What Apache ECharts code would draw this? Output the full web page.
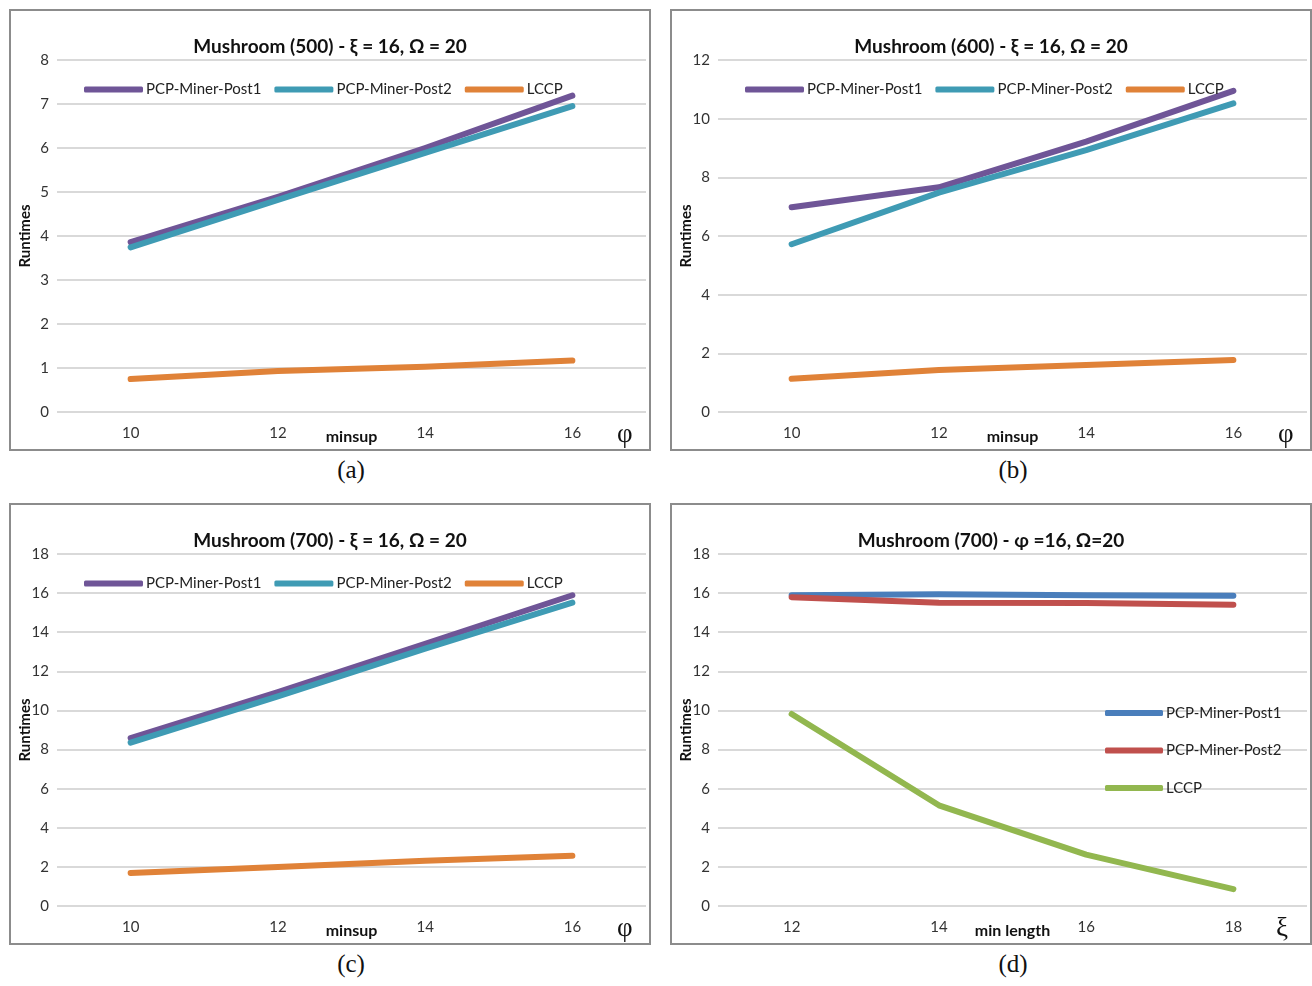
<!DOCTYPE html>
<html>
<head>
<meta charset="utf-8">
<script src="https://cdn.jsdelivr.net/npm/echarts@6/dist/echarts.min.js"></script>
<style>
  html, body { margin: 0; padding: 0; background: #fff; }
  body { width: 1312px; height: 986px; position: relative; overflow: hidden; }
  .box { position: absolute; width: 638px; height: 438px; border: 2px solid #8c8c8c; }
  .chart { width: 638px; height: 438px; }
  .cap { position: absolute; width: 120px; text-align: center; font-family: "Liberation Serif", "DejaVu Serif", serif; font-size: 25px; color: #111; }
</style>
</head>
<body>
<div class="box" style="left:9px;top:9px"><div id="ca" class="chart"></div></div>
<div class="box" style="left:670px;top:9px"><div id="cb" class="chart"></div></div>
<div class="box" style="left:9px;top:503px"><div id="cc" class="chart"></div></div>
<div class="box" style="left:670px;top:503px"><div id="cd" class="chart"></div></div>
<div class="cap" style="left:291px;top:456px">(a)</div>
<div class="cap" style="left:953px;top:456px">(b)</div>
<div class="cap" style="left:291px;top:950px">(c)</div>
<div class="cap" style="left:953px;top:950px">(d)</div>
<script>
// x categories
const minsupCats = ["10", "12", "14", "16"];
const lengthCats = ["12", "14", "16", "18"];

// (a) Mushroom (500)
const aPost1 = [3.86, 4.89, 6.0, 7.19];
const aPost2 = [3.74, 4.82, 5.89, 6.95];
const aLccp = [0.75, 0.93, 1.03, 1.17];

// (b) Mushroom (600)
const bPost1 = [6.98, 7.66, 9.22, 10.95];
const bPost2 = [5.72, 7.48, 8.93, 10.52];
const bLccp = [1.13, 1.43, 1.6, 1.77];

// (c) Mushroom (700), varying minsup
const cPost1 = [8.59, 10.94, 13.41, 15.89];
const cPost2 = [8.35, 10.72, 13.16, 15.51];
const cLccp = [1.69, 1.99, 2.32, 2.57];

// (d) Mushroom (700), varying min length
const dPost1 = [15.89, 15.94, 15.89, 15.87];
const dPost2 = [15.79, 15.51, 15.5, 15.41];
const dLccp = [9.82, 5.15, 2.63, 0.86];

const seriesNames = ["PCP-Miner-Post1", "PCP-Miner-Post2", "LCCP"];
const FONT = "Lato, 'Open Sans', sans-serif";

function buildOption(cfg) {
  const legendText = { fontFamily: FONT, fontSize: 15, color: "#222", padding: [0, 0, 0, -2] };
  const legend = cfg.vertical
    ? {
        orient: "vertical", left: 428, top: 194,
        icon: "roundRect", itemWidth: 58, itemHeight: 6, itemGap: 19.5,
        textStyle: Object.assign({ lineHeight: 18 }, legendText),
        data: seriesNames
      }
    : {
        left: 68, top: 66,
        icon: "roundRect", itemWidth: 59, itemHeight: 6, itemGap: 13,
        textStyle: legendText,
        data: seriesNames
      };
  return {
    animation: false,
    title: {
      text: cfg.title, left: "center", top: 21,
      textStyle: { fontFamily: FONT, fontSize: 19, fontWeight: "bold", color: "#111" }
    },
    legend: legend,
    grid: { left: 46, right: 3, top: 49, bottom: 37, outerBoundsMode: "none", containLabel: false },
    xAxis: {
      type: "category", data: cfg.cats, boundaryGap: true,
      name: cfg.xName, nameLocation: "middle", nameGap: 17, nameMoveOverlap: false,
      nameTextStyle: { fontFamily: FONT, fontSize: 16, fontWeight: "bold", color: "#111" },
      axisLine: { show: false }, axisTick: { show: false },
      axisLabel: { fontFamily: FONT, fontSize: 15, color: "#333", margin: 14 }
    },
    yAxis: {
      type: "value", min: 0, max: cfg.max, interval: cfg.interval,
      name: "Runtimes", nameLocation: "middle", nameGap: 24, nameRotate: 90, nameMoveOverlap: false,
      nameTextStyle: { fontFamily: FONT, fontSize: 15, fontWeight: "bold", color: "#111" },
      axisLine: { show: false }, axisTick: { show: false },
      axisLabel: { fontFamily: FONT, fontSize: 15, color: "#333", margin: 8 },
      splitLine: { lineStyle: { color: "#d9d9d9", width: 2 } }
    },
    graphic: [{
      type: "text", left: cfg.symbolLeft, top: 410,
      style: { text: cfg.symbol, font: "27px 'Liberation Serif', serif", fill: "#111" }
    }],
    series: cfg.data.map((d, i) => ({
      name: seriesNames[i], type: "line", data: d,
      symbol: "none", smooth: false,
      itemStyle: { color: cfg.colors[i] },
      lineStyle: { color: cfg.colors[i], width: 6, cap: "round", join: "round" }
    }))
  };
}

const minsupColors = ["#6f5597", "#3f9bb4", "#e08238"];
const lengthColors = ["#4a7ebb", "#c0504d", "#92b74f"];

const panels = [
  { id: "ca", title: "Mushroom (500) - ξ = 16, Ω = 20", cats: minsupCats, xName: "minsup", max: 8, interval: 1,
    data: [aPost1, aPost2, aLccp], colors: minsupColors, symbol: "φ", symbolLeft: 606 },
  { id: "cb", title: "Mushroom (600) - ξ = 16, Ω = 20", cats: minsupCats, xName: "minsup", max: 12, interval: 2,
    data: [bPost1, bPost2, bLccp], colors: minsupColors, symbol: "φ", symbolLeft: 606 },
  { id: "cc", title: "Mushroom (700) - ξ = 16, Ω = 20", cats: minsupCats, xName: "minsup", max: 18, interval: 2,
    data: [cPost1, cPost2, cLccp], colors: minsupColors, symbol: "φ", symbolLeft: 606 },
  { id: "cd", title: "Mushroom (700) - φ =16, Ω=20", cats: lengthCats, xName: "min length", max: 18, interval: 2,
    data: [dPost1, dPost2, dLccp], colors: lengthColors, symbol: "ξ", symbolLeft: 604, vertical: true }
];

panels.forEach((p) => {
  const chart = echarts.init(document.getElementById(p.id), null, { renderer: "canvas" });
  chart.setOption(buildOption(p));
});
</script>
</body>
</html>
